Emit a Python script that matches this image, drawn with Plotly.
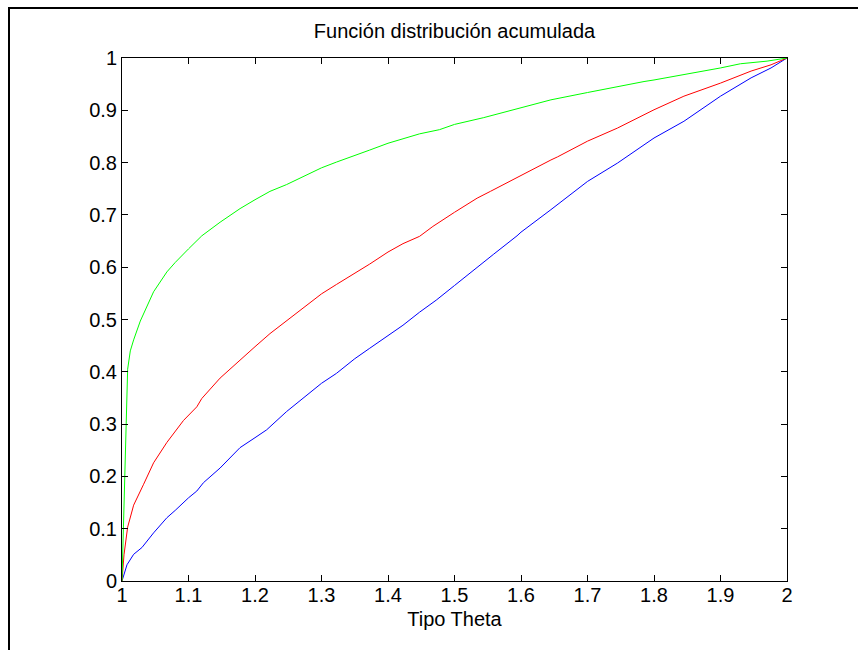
import plotly.graph_objects as go

# Green series
green_x = [1.0, 1.002, 1.004, 1.006, 1.0085, 1.0125, 1.0175, 1.0275, 1.04, 1.0475, 1.0675, 1.08, 1.1, 1.12,
           1.1475, 1.1775, 1.2, 1.2225, 1.2475, 1.2725, 1.3, 1.3225, 1.3475, 1.3725, 1.4, 1.4225, 1.4475,
           1.4775, 1.5, 1.544, 1.559, 1.6, 1.645, 1.7, 1.72, 1.745, 1.785, 1.8, 1.845, 1.9, 1.93, 1.97, 2.0]
green_y = [0, 0.1, 0.22, 0.33, 0.405, 0.44, 0.461, 0.497, 0.533, 0.553, 0.591, 0.609, 0.635, 0.66,
           0.686, 0.712, 0.729, 0.745, 0.758, 0.773, 0.79, 0.801, 0.812, 0.824, 0.837, 0.845, 0.855,
           0.863, 0.873, 0.886, 0.891, 0.905, 0.920, 0.934, 0.939, 0.946, 0.955, 0.958, 0.968, 0.981, 0.989, 0.994, 1.0]

# Red series
red_x = [1.0, 1.003, 1.0085, 1.0175, 1.0325, 1.0475, 1.0675, 1.0925, 1.1125, 1.12, 1.1475, 1.18, 1.2, 1.2225,
         1.2475, 1.2725, 1.3, 1.3225, 1.3475, 1.3725, 1.4, 1.4225, 1.4475, 1.4675, 1.5, 1.534, 1.554, 1.594,
         1.645, 1.655, 1.7, 1.745, 1.8, 1.845, 1.9, 1.946, 1.976, 2.0]
red_y = [0, 0.05, 0.103, 0.145, 0.185, 0.226, 0.265, 0.307, 0.333, 0.349, 0.388, 0.426, 0.448, 0.473,
         0.498, 0.523, 0.549, 0.567, 0.586, 0.606, 0.629, 0.645, 0.659, 0.678, 0.705, 0.732, 0.745, 0.772,
         0.805, 0.811, 0.841, 0.866, 0.901, 0.927, 0.952, 0.975, 0.987, 1.0]

# Blue series
blue_x = [1.0, 1.0075, 1.0175, 1.03, 1.0475, 1.0675, 1.08, 1.1, 1.1125, 1.1225, 1.1475, 1.1775, 1.2, 1.2175,
          1.2475, 1.2725, 1.3, 1.3225, 1.35, 1.3725, 1.3975, 1.4225, 1.4475, 1.4725, 1.5, 1.524, 1.559, 1.594,
          1.6, 1.645, 1.7, 1.745, 1.8, 1.845, 1.9, 1.946, 1.976, 2.0]
blue_y = [0, 0.031, 0.051, 0.064, 0.092, 0.121, 0.135, 0.159, 0.172, 0.188, 0.216, 0.255, 0.274, 0.289,
          0.324, 0.349, 0.378, 0.397, 0.425, 0.445, 0.467, 0.489, 0.514, 0.537, 0.565, 0.590, 0.625, 0.660,
          0.667, 0.710, 0.764, 0.799, 0.847, 0.879, 0.927, 0.962, 0.981, 1.0]

x_ticks = [1.0, 1.1, 1.2, 1.3, 1.4, 1.5, 1.6, 1.7, 1.8, 1.9, 2.0]
x_tick_labels = ["1", "1.1", "1.2", "1.3", "1.4", "1.5", "1.6", "1.7", "1.8", "1.9", "2"]
y_ticks = [0, 0.1, 0.2, 0.3, 0.4, 0.5, 0.6, 0.7, 0.8, 0.9, 1.0]
y_tick_labels = ["0", "0.1", "0.2", "0.3", "0.4", "0.5", "0.6", "0.7", "0.8", "0.9", "1"]

title_text = "Función distribución acumulada"
x_title = "Tipo Theta"

FONT = "Liberation Sans, Arial, Helvetica, sans-serif"
FS = 20

fig = go.Figure()
fig.add_trace(go.Scatter(x=blue_x, y=blue_y, mode="lines", line=dict(color="#0000ff", width=1), showlegend=False))
fig.add_trace(go.Scatter(x=red_x, y=red_y, mode="lines", line=dict(color="#ff0000", width=1), showlegend=False))
fig.add_trace(go.Scatter(x=green_x, y=green_y, mode="lines", line=dict(color="#00ff00", width=1), showlegend=False))

W, H = 858, 650
L, R, T, B = 122, 787, 58, 581
pw, ph = R - L, B - T

axis_common = dict(
    showgrid=False, zeroline=False, showline=True, linecolor="black", linewidth=1,
    ticks="inside", ticklen=6, tickwidth=1, tickcolor="black", mirror="allticks",
    tickfont=dict(family=FONT, size=FS, color="black"),
)

fig.update_layout(
    width=W, height=H,
    margin=dict(l=L, r=W - R, t=T, b=H - B, pad=0),
    paper_bgcolor="white", plot_bgcolor="white",
    font=dict(family=FONT, size=FS, color="black"),
    title=dict(text=title_text, x=0.5, xref="paper", xanchor="center",
               y=1 - 31 / H, yref="container", yanchor="middle",
               font=dict(family=FONT, size=FS, color="black")),
    xaxis=dict(range=[1, 2], tickvals=x_ticks, ticktext=x_tick_labels, ticklabelstandoff=-4,
               title=dict(text=x_title, standoff=6, font=dict(family=FONT, size=FS, color="black")),
               **axis_common),
    yaxis=dict(range=[0, 1], tickvals=y_ticks, ticktext=y_tick_labels, **axis_common),
    shapes=[
        dict(type="line", xref="paper", yref="paper",
             x0=(8 - L) / pw, x1=(W + 5 - L) / pw, y0=(B - 8) / ph, y1=(B - 8) / ph,
             line=dict(color="black", width=2)),
        dict(type="line", xref="paper", yref="paper",
             x0=(9 - L) / pw, x1=(9 - L) / pw, y0=(B - 7) / ph, y1=(B - H - 5) / ph,
             line=dict(color="black", width=2)),
    ],
)

fig.write_html("out.html")
